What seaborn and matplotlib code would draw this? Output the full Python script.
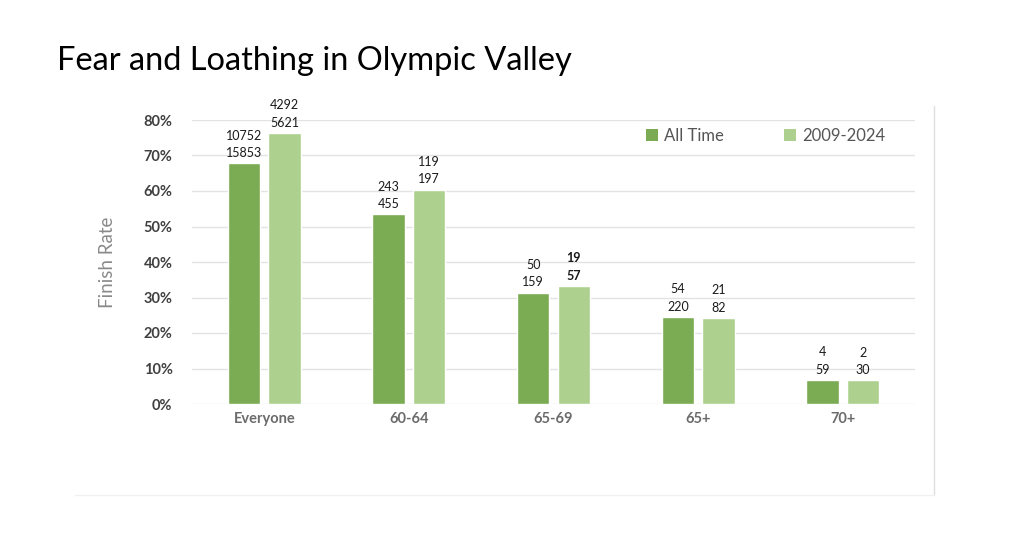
import matplotlib
matplotlib.use("Agg")
import matplotlib.pyplot as plt
import seaborn as sns
import pandas as pd
from matplotlib.lines import Line2D
from matplotlib.patches import Patch

categories = ["Everyone", "60-64", "65-69", "65+", "70+"]
series = ["All Time", "2009-2024"]
all_time = [67.8, 53.4, 31.4, 24.5, 6.8]
recent = [76.4, 60.4, 33.3, 24.2, 6.7]
all_time_finishers = ["10752", "243", "50", "54", "4"]
all_time_starters = ["15853", "455", "159", "220", "59"]
recent_finishers = ["4292", "119", "19", "21", "2"]
recent_starters = ["5621", "197", "57", "82", "30"]
title = "Fear and Loathing in Olympic Valley"
y_ticks = [0, 10, 20, 30, 40, 50, 60, 70, 80]

colors = ["#7BAB53", "#AED08F"]

df = pd.DataFrame({
    "Group": categories * 2,
    "Series": [series[0]] * len(categories) + [series[1]] * len(categories),
    "Rate": all_time + recent,
})

sns.set_theme(style="white")
plt.rcParams["font.family"] = ["Lato", "DejaVu Sans"]

fig = plt.figure(figsize=(10.24, 5.41), dpi=100)
ax = fig.add_axes([192 / 1024, 1 - 404 / 541, (915 - 192) / 1024, (404 - 120) / 541])

sns.barplot(data=df, x="Group", y="Rate", hue="Series", order=categories,
            hue_order=series, palette=colors, width=0.56, gap=0.2,
            saturation=1, ax=ax, legend=False)

ax.set_xlim(-0.5, 4.5)
ax.set_ylim(0, 80)
ax.set_yticks(y_ticks)
ax.set_yticklabels([f"{t}%" for t in y_ticks])
for s in ax.spines.values():
    s.set_visible(False)
ax.yaxis.grid(True, color="#E3E3E3", linewidth=1)
ax.set_axisbelow(True)
ax.tick_params(axis="both", length=0)
ax.tick_params(axis="y", pad=14)
ax.tick_params(axis="x", pad=6)
for lab in ax.get_yticklabels():
    lab.set_fontsize(10.5)
    lab.set_fontweight("bold")
    lab.set_color("#404040")
for lab in ax.get_xticklabels():
    lab.set_fontsize(10.5)
    lab.set_fontweight("bold")
    lab.set_color("#6B6B6B")
ax.set_xlabel("")
ax.set_ylabel("Finish Rate", fontsize=13.5, color="#8A8A8A", labelpad=20)

nums = [(all_time_finishers, all_time_starters), (recent_finishers, recent_starters)]
for ci, (cont, (fin, sta)) in enumerate(zip(ax.containers, nums)):
    for bi, bar in enumerate(cont):
        x = bar.get_x() + bar.get_width() / 2
        h = bar.get_height()
        weight = "bold" if (ci == 1 and bi == 2) else "normal"
        ax.annotate(f"{fin[bi]}\n{sta[bi]}", (x, h), xytext=(0, 3),
                    textcoords="offset points", ha="center", va="bottom",
                    fontsize=9, linespacing=1.55, color="#1A1A1A",
                    fontweight=weight, annotation_clip=False)

handles = [Patch(facecolor=c, edgecolor="none") for c in colors]
ax.legend(handles, series, loc="center left", bbox_to_anchor=(0.628, 0.944),
          ncol=2, frameon=False, handlelength=0.7, handleheight=0.7,
          handletextpad=0.4, columnspacing=3.6, fontsize=12,
          labelcolor="#555555", borderaxespad=0, borderpad=0)

fig.text(57 / 1024, 1 - 61 / 541, title, fontsize=23.5, color="black",
         ha="left", va="center")

# faint frame of the chart image
fig.add_artist(Line2D([934 / 1024, 934 / 1024], [1 - 106 / 541, 1 - 495 / 541],
                      color="#E0E0E0", linewidth=1))
fig.add_artist(Line2D([75 / 1024, 934 / 1024], [1 - 495 / 541, 1 - 495 / 541],
                      color="#F0F0F0", linewidth=1))

fig.savefig("out.png", dpi=100)
